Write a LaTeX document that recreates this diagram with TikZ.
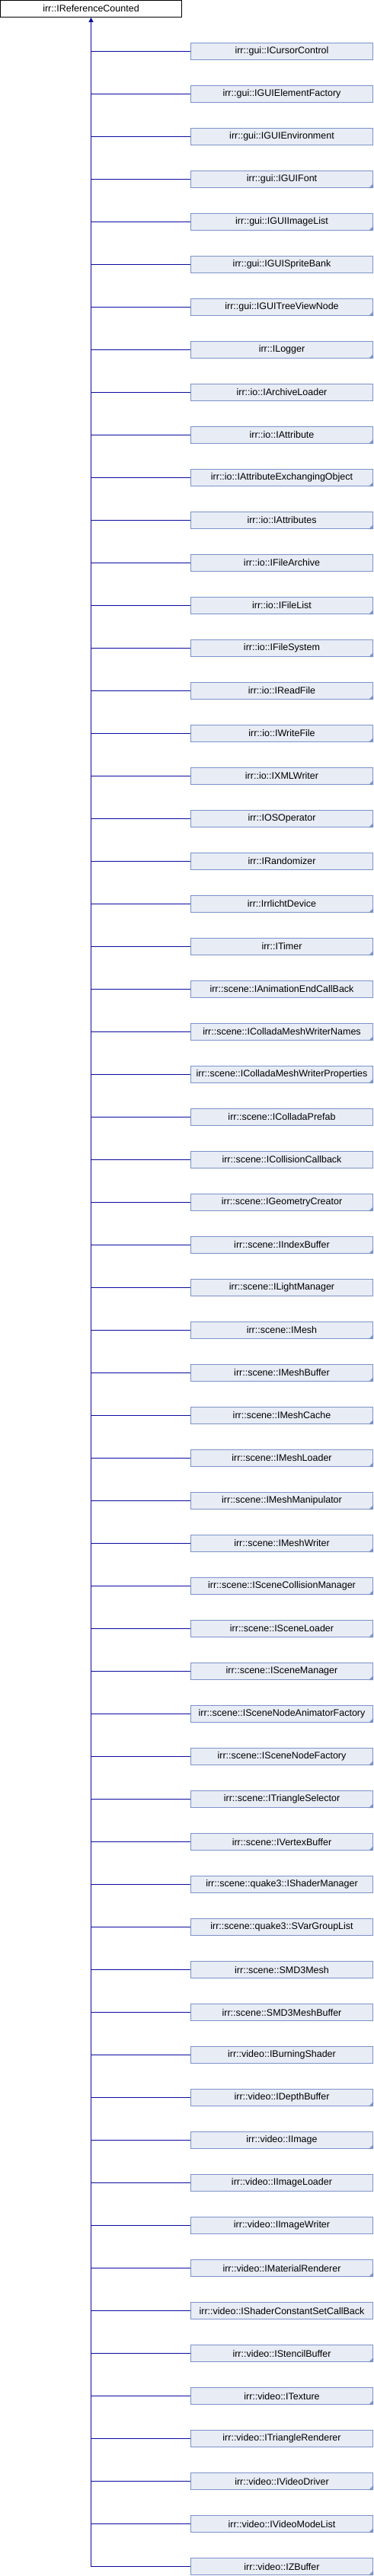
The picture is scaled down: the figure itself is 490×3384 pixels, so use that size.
\documentclass[tikz,border=0pt]{standalone}
\usepackage{fontspec}
\setmainfont{Liberation Sans}
\usetikzlibrary{arrows.meta}
\definecolor{boxfill}{HTML}{E8ECF5}
\definecolor{boxline}{HTML}{7B92C9}
\definecolor{edgecol}{HTML}{0A0AA0}
\tikzset{
  basebox/.style={draw=black, fill=white, line width=1pt, minimum width=238pt, minimum height=22pt, inner sep=0pt, font=\fontsize{12.5}{15}\selectfont},
  childbox/.style={draw=boxline, fill=boxfill, line width=1pt, minimum width=239pt, minimum height=22pt, inner sep=0pt, font=\fontsize{12.5}{15}\selectfont},
  edgeline/.style={draw=edgecol, line width=1pt},
  moremark/.style={fill=boxline, draw=none}
}
\begin{document}
\begin{tikzpicture}[x=1pt,y=1pt]
\useasboundingbox (0,0) rectangle (490,-3384);
\node[basebox] (root) at (119.5,-11.5) {irr::IReferenceCounted};
\foreach \nm/\mk [count=\i] in {
irr::gui::ICursorControl/0, irr::gui::IGUIElementFactory/0, irr::gui::IGUIEnvironment/0, irr::gui::IGUIFont/1, irr::gui::IGUIImageList/1,
irr::gui::IGUISpriteBank/0, irr::gui::IGUITreeViewNode/1, irr::ILogger/1, irr::io::IArchiveLoader/0, irr::io::IAttribute/1,
irr::io::IAttributeExchangingObject/1, irr::io::IAttributes/1, irr::io::IFileArchive/0, irr::io::IFileList/1, irr::io::IFileSystem/1,
irr::io::IReadFile/1, irr::io::IWriteFile/1, irr::io::IXMLWriter/1, irr::IOSOperator/1, irr::IRandomizer/0,
irr::IrrlichtDevice/1, irr::ITimer/1, irr::scene::IAnimationEndCallBack/0, irr::scene::IColladaMeshWriterNames/1, irr::scene::IColladaMeshWriterProperties/1,
irr::scene::IColladaPrefab/0, irr::scene::ICollisionCallback/0, irr::scene::IGeometryCreator/1, irr::scene::IIndexBuffer/1, irr::scene::ILightManager/0,
irr::scene::IMesh/1, irr::scene::IMeshBuffer/1, irr::scene::IMeshCache/1, irr::scene::IMeshLoader/1, irr::scene::IMeshManipulator/1,
irr::scene::IMeshWriter/1, irr::scene::ISceneCollisionManager/1, irr::scene::ISceneLoader/1, irr::scene::ISceneManager/1, irr::scene::ISceneNodeAnimatorFactory/1,
irr::scene::ISceneNodeFactory/1, irr::scene::ITriangleSelector/1, irr::scene::IVertexBuffer/1, irr::scene::quake3::IShaderManager/0, irr::scene::quake3::SVarGroupList/0,
irr::scene::SMD3Mesh/0, irr::scene::SMD3MeshBuffer/0, irr::video::IBurningShader/0, irr::video::IDepthBuffer/1, irr::video::IImage/1,
irr::video::IImageLoader/0, irr::video::IImageWriter/0, irr::video::IMaterialRenderer/1, irr::video::IShaderConstantSetCallBack/0, irr::video::IStencilBuffer/1,
irr::video::ITexture/1, irr::video::ITriangleRenderer/0, irr::video::IVideoDriver/1, irr::video::IVideoModeList/1, irr::video::IZBuffer/1}
{
  \node[childbox] (c\i) at (370,{-(56*\i+11.5)}) {\nm};
  \ifnum\mk=1
    \fill[moremark] ([shift={(-6,0)}]c\i.south east) -- (c\i.south east) -- ([shift={(0,6)}]c\i.south east) -- cycle;
  \fi
  \ifnum\i<60
    \draw[edgeline] (c\i.west) -- (c\i.west -| root.south);
  \fi
}
\draw[edgeline, -{Triangle[length=6pt,width=6pt]}] (c60.west) -| (root.south);
\end{tikzpicture}
\end{document}
